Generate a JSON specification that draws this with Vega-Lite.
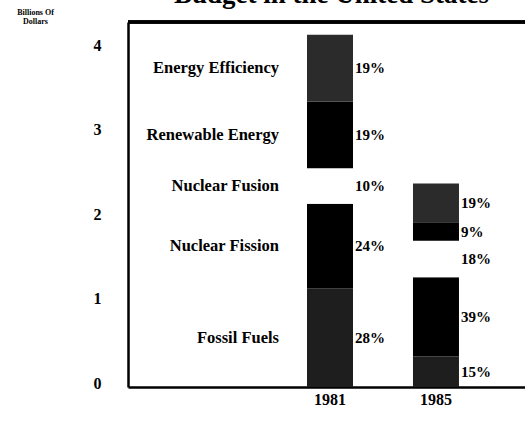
{
  "$schema": "https://vega.github.io/schema/vega-lite/v6.json",
  "width": 397,
  "height": 365,
  "autosize": {"type": "none"},
  "padding": {"left": 128, "top": 22, "right": 0, "bottom": 36},
  "background": "white",
  "title": {"text": "Budget in the United States", "font": "Liberation Serif", "fontSize": 27, "fontWeight": "bold", "baseline": "alphabetic", "offset": 15, "dx": 5, "dy": 37, "anchor": "middle", "frame": "group", "color": "black"},
  "config": {
    "view": {"stroke": null},
    "font": "Liberation Serif",
    "axis": {"domainColor": "black", "domainWidth": 2.5, "ticks": false, "grid": false, "labelColor": "black", "labelFont": "Liberation Serif", "labelFontWeight": "bold", "labelFontSize": 16}
  },
  "data": {"values": [
    {"year": "1981", "category": "Fossil Fuels", "rank": 1, "value": 1.17, "pct": "28%"},
    {"year": "1981", "category": "Nuclear Fission", "rank": 2, "value": 1.00, "pct": "24%"},
    {"year": "1981", "category": "Nuclear Fusion", "rank": 3, "value": 0.42, "pct": "10%"},
    {"year": "1981", "category": "Renewable Energy", "rank": 4, "value": 0.79, "pct": "19%"},
    {"year": "1981", "category": "Energy Efficiency", "rank": 5, "value": 0.79, "pct": "19%"},
    {"year": "1985", "category": "Fossil Fuels", "rank": 1, "value": 0.36, "pct": "15%"},
    {"year": "1985", "category": "Nuclear Fission", "rank": 2, "value": 0.94, "pct": "39%"},
    {"year": "1985", "category": "Nuclear Fusion", "rank": 3, "value": 0.43, "pct": "18%"},
    {"year": "1985", "category": "Renewable Energy", "rank": 4, "value": 0.22, "pct": "9%"},
    {"year": "1985", "category": "Energy Efficiency", "rank": 5, "value": 0.46, "pct": "19%"}
  ]},
  "transform": [
    {"stack": "value", "groupby": ["year"], "sort": [{"field": "rank", "order": "ascending"}], "as": ["v0", "v1"]},
    {"calculate": "(datum.v0 + datum.v1) / 2", "as": "mid"}
  ],
  "encoding": {
    "x": {"field": "year", "type": "nominal",
      "scale": {"domain": ["labels", "1981", "1985"], "paddingInner": 0.566, "paddingOuter": 0.689, "range": [0, 404]},
      "axis": {"title": null, "labelAngle": 0, "labelPadding": 4, "labelExpr": "datum.value == 'labels' ? '' : datum.label"}}
  },
  "layer": [
    {
      "mark": {"type": "rule", "color": "black", "strokeWidth": 2.5},
      "encoding": {"x": null, "y": {"datum": 4.32, "type": "quantitative"}}
    },
    {
      "mark": {"type": "bar"},
      "encoding": {
        "y": {"field": "v0", "type": "quantitative",
          "scale": {"domain": [0, 4.32], "nice": false},
          "axis": {"values": [0, 1, 2, 3, 4], "format": "d", "labelPadding": 27, "labelOffset": -4,
            "title": ["Billions Of", "Dollars"], "titleAngle": 0, "titleX": -93, "titleY": -14,
            "titleAlign": "center", "titleBaseline": "top", "titleFontSize": 8, "titleFont": "Liberation Serif", "titleFontWeight": "bold", "titleColor": "black", "titleLineHeight": 9}},
        "y2": {"field": "v1"},
        "color": {"field": "category", "type": "nominal", "legend": null,
          "scale": {"domain": ["Fossil Fuels", "Nuclear Fission", "Nuclear Fusion", "Renewable Energy", "Energy Efficiency"],
                    "range": ["#1e1e1e", "#000000", "#ffffff", "#000000", "#2b2b2b"]}}
      }
    },
    {
      "mark": {"type": "text", "align": "left", "baseline": "middle", "dx": 2, "fontSize": 15, "fontWeight": "bold", "font": "Liberation Serif", "color": "black"},
      "encoding": {
        "x": {"field": "year", "type": "nominal", "bandPosition": 1},
        "y": {"field": "mid", "type": "quantitative"},
        "text": {"field": "pct"}
      }
    },
    {
      "transform": [{"filter": "datum.year == '1981'"}],
      "mark": {"type": "text", "align": "right", "baseline": "middle", "dx": -28, "fontSize": 16.5, "fontWeight": "bold", "font": "Liberation Serif", "color": "black"},
      "encoding": {
        "x": {"field": "year", "type": "nominal", "bandPosition": 0},
        "y": {"field": "mid", "type": "quantitative"},
        "text": {"field": "category"}
      }
    }
  ]
}
